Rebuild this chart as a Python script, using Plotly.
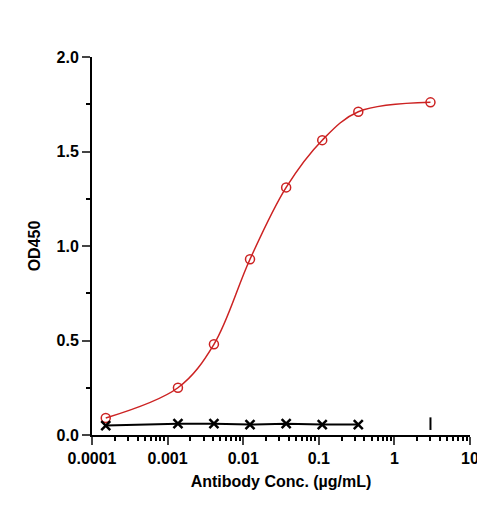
import plotly.graph_objects as go

conc_red = [0.000152, 0.00137, 0.0041, 0.0123, 0.037, 0.111, 0.333, 3]
od_red = [0.09, 0.25, 0.48, 0.93, 1.31, 1.56, 1.71, 1.76]
conc_blk = [0.000152, 0.00137, 0.0041, 0.0123, 0.037, 0.111, 0.333]
od_blk = [0.05, 0.06, 0.06, 0.055, 0.06, 0.055, 0.055]
conc_tick = [3]
od_tick = [0.06]

fig = go.Figure()
fig.add_trace(go.Scatter(x=conc_red, y=od_red, mode="lines+markers",
                         line=dict(color="#cc2222", width=1.5, shape="spline", smoothing=1.0),
                         marker=dict(symbol="circle-open", size=9, color="#cc2222",
                                     line=dict(width=1.5))))
fig.add_trace(go.Scatter(x=conc_blk, y=od_blk, mode="lines+markers",
                         line=dict(color="black", width=2),
                         marker=dict(symbol="x-thin-open", size=9, color="black",
                                     line=dict(width=2.5, color="black"))))
fig.add_trace(go.Scatter(x=conc_tick, y=od_tick, mode="markers",
                         marker=dict(symbol="line-ns-open", size=9, color="black",
                                     line=dict(width=2, color="black"))))

font = dict(family="Arial, Liberation Sans", size=16, color="black")
fig.update_layout(
    width=485, height=508, showlegend=False,
    plot_bgcolor="white", paper_bgcolor="white",
    margin=dict(l=84, r=23, t=49, b=81),
    font=font,
    xaxis=dict(type="log", range=[-4, 1], showgrid=False, zeroline=False, automargin=False,
               showline=True, linecolor="black", linewidth=2,
               ticks="outside", ticklen=8, tickwidth=2,
               tickvals=[0.0001, 0.001, 0.01, 0.1, 1, 10],
               ticktext=["<b>0.0001</b>", "<b>0.001</b>", "<b>0.01</b>", "<b>0.1</b>", "<b>1</b>", "<b>10</b>"],
               minor=dict(ticks="outside", ticklen=4, tickwidth=1.5, tickcolor="black",
                          tickvals=[m * 10 ** e for e in range(-4, 1) for m in range(2, 10)]),
               title=dict(text="<b>Antibody Conc. (µg/mL)</b>", font=font, standoff=10)),
    yaxis=dict(range=[0, 2.0], showgrid=False, zeroline=False, automargin=False,
               showline=True, linecolor="black", linewidth=2,
               ticks="outside", ticklen=8, tickwidth=2,
               tickvals=[0, 0.5, 1.0, 1.5, 2.0],
               ticktext=["<b>0.0</b>", "<b>0.5</b>", "<b>1.0</b>", "<b>1.5</b>", "<b>2.0</b>"],
               minor=dict(ticks="outside", ticklen=4, tickwidth=1.5, tickcolor="black", dtick=0.25),
               title=dict(text="<b>OD450</b>", font=font, standoff=12)),
)
fig.write_html("out.html")
